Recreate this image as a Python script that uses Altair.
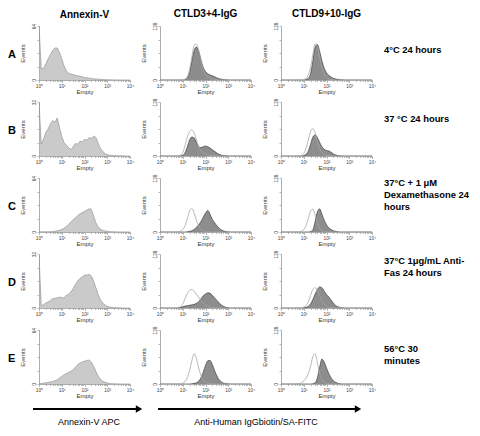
import altair as alt
import numpy as np
import pandas as pd

FONT = "Liberation Sans"

# log10 fluorescence positions (decades 10^0 .. 10^4)
LOGX = [0.0, 0.1, 0.2, 0.3, 0.4, 0.5, 0.6, 0.7, 0.8, 0.9,
        1.0, 1.1, 1.2, 1.3, 1.4, 1.5, 1.6, 1.7, 1.8, 1.9,
        2.0, 2.1, 2.2, 2.3, 2.4, 2.5, 2.6, 2.7, 2.8, 2.9,
        3.0, 3.1, 3.2, 3.3, 3.4, 3.5, 3.6, 3.7, 3.8, 3.9, 4.0]

X_TICKS = [0, 1, 2, 3, 4]
X_LABELS = ["10⁰", "10¹", "10²", "10³", "10⁴"]

ROWS = ["A", "B", "C", "D", "E"]
COL_TITLES = ["Annexin-V", "CTLD3+4-IgG", "CTLD9+10-IgG"]
CONDITIONS = [
    "4°C 24 hours",
    "37 °C 24 hours",
    "37°C + 1 μM\nDexamethasone 24\nhours",
    "37°C 1μg/mL Anti-\nFas 24 hours",
    "56°C 30\nminutes",
]
ANNEXIN_MAX = [64, 32, 64, 32, 64]
CTLD_MAX = [128, 128, 128, 128, 128]
AXIS_LABELS = ["Annexin-V APC", "Anti-Human IgGbiotin/SA-FITC"]

# Annexin-V histograms (events)
ANNEXIN_A = [64, 13, 14, 19, 25, 30, 35, 38, 38, 33, 25, 17, 11, 8, 7, 6.5, 5.5, 5, 4.5, 3.8,
             3, 2.7, 2.2, 1.8, 1.5, 1.2, 1, 0.8, 0.6, 0.4, 0.3, 0.2, 0.2, 0.1, 0.1, 0.1, 0, 0, 0, 0, 0]
ANNEXIN_B = [32, 7, 10, 14, 16, 19, 21, 20, 22.5, 17, 11.5, 8, 6.5, 5, 3.8, 5.5, 7.5, 7, 8.8, 8.5,
             9.8, 9.5, 10.8, 10.5, 11.8, 11, 7.5, 4.5, 2.8, 1.5, 0.8, 0.5, 0.3, 0.2, 0.2, 0.1, 0.1, 0.1, 0, 0, 0]
ANNEXIN_C = [0.3, 0.3, 0.3, 0.3, 0.3, 0.3, 0.5, 1, 1.5, 2, 3, 4.5, 6.5, 9, 12, 14.5, 17, 19.5, 21.5, 23,
             24.5, 26, 27.5, 27, 19, 11, 6, 3.5, 2, 1.2, 0.8, 0.5, 0.3, 0.2, 0.2, 0.1, 0.1, 0.1, 0.1, 0, 0]
ANNEXIN_D = [31, 1.5, 2, 3, 3.5, 4.5, 5.5, 5.8, 6, 6.5, 6.2, 5.8, 7.5, 8.2, 9.5, 11.5, 14, 16, 17.5, 18.5,
             19.5, 19.5, 20, 19, 16, 12, 8, 5, 3, 1.8, 1, 0.6, 0.3, 0.2, 0.2, 0.1, 0.1, 0, 0, 0, 0]
ANNEXIN_E = [0.5, 0.6, 1, 1.4, 1.9, 2.4, 3, 3.8, 5, 7, 9, 11, 12.5, 13.5, 15, 17, 20, 23, 25, 26,
             27, 28, 28.5, 26, 21, 15, 9.5, 5.5, 3.5, 2, 1.2, 0.7, 0.4, 0.2, 0.2, 0.1, 0.1, 0, 0, 0, 0]

# CTLD3+4-IgG: control (open) and sample (filled)
C34_CTRL_A = [0, 0, 0, 0, 0, 0, 0, 0, 0, 0, 0.5, 2, 8, 25, 55, 82, 85, 70, 45, 25,
              13, 7, 4, 2, 1, 0.5, 0, 0, 0, 0, 0, 0, 0, 0, 0, 0, 0, 0, 0, 0, 0]
C34_SAMP_A = [0, 0, 0, 0, 0, 0, 0, 0, 0, 0, 0, 1, 5, 18, 45, 70, 78, 68, 48, 30,
              20, 15, 12, 10, 8, 5, 3, 2, 1, 0.5, 0.2, 0, 0, 0, 0, 0, 0, 0, 0, 0, 0]
C34_CTRL_B = [0, 0, 0, 0, 0, 0, 0, 0, 0.5, 2, 8, 25, 45, 58, 62, 55, 38, 22, 12, 7,
              4, 2.5, 1.5, 1, 0.5, 0, 0, 0, 0, 0, 0, 0, 0, 0, 0, 0, 0, 0, 0, 0, 0]
C34_SAMP_B = [0, 0, 0, 0, 0, 0, 0, 0, 0, 0.5, 2, 8, 22, 38, 45, 43, 32, 22, 20, 22,
              23.5, 22, 19, 15, 11, 7, 4, 2, 1, 0.3, 0, 0, 0, 0, 0, 0, 0, 0, 0, 0, 0]
C34_CTRL_C = [0, 0, 0, 0, 0, 0, 0, 0, 0.5, 2, 6, 15, 32, 50, 56, 45, 28, 14, 6, 2.5,
              1, 0.3, 0, 0, 0, 0, 0, 0, 0, 0, 0, 0, 0, 0, 0, 0, 0, 0, 0, 0, 0]
C34_SAMP_C = [0, 0, 0, 0, 0, 0, 0, 0, 0, 0, 0, 0, 0.5, 1.5, 3, 6, 11, 17, 25, 35,
              45, 51, 42, 30, 22, 15, 9, 5, 2.5, 1, 0.3, 0, 0, 0, 0, 0, 0, 0, 0, 0, 0]
C34_CTRL_D = [0, 0, 0, 0, 0, 0, 0, 0, 0.5, 3, 10, 22, 34, 42, 44, 40, 32, 25, 18, 12,
              7, 4, 2, 0.8, 0.3, 0, 0, 0, 0, 0, 0, 0, 0, 0, 0, 0, 0, 0, 0, 0, 0]
C34_SAMP_D = [0, 0, 0, 0, 0, 0, 0, 0, 0.5, 1.5, 3, 4.5, 5.5, 6.5, 7.5, 8.5, 11, 15, 22, 29,
              33, 36, 35, 30, 24, 18, 12, 7, 3.5, 1.5, 0.5, 0, 0, 0, 0, 0, 0, 0, 0, 0, 0]
C34_CTRL_E = [0, 0, 0, 0, 0, 0, 0, 0, 0, 0.3, 2, 6, 15, 32, 55, 72, 60, 38, 20, 10,
              4, 1.5, 0.5, 0, 0, 0, 0, 0, 0, 0, 0, 0, 0, 0, 0, 0, 0, 0, 0, 0, 0]
C34_SAMP_E = [0, 0, 0, 0, 0, 0, 0, 0, 0, 0, 0, 0, 0, 0, 0.5, 1.5, 3, 7, 15, 28,
              44, 55, 56, 46, 32, 19, 10, 5, 2, 0.8, 0.3, 0, 0, 0, 0, 0, 0, 0, 0, 0, 0]

# CTLD9+10-IgG: control (open) and sample (filled)
C910_CTRL_A = [0, 0, 0, 0, 0, 0, 0, 0, 0, 0.5, 1, 4, 12, 30, 60, 86, 80, 55, 30, 14,
               6, 3, 1.5, 0.5, 0, 0, 0, 0, 0, 0, 0, 0, 0, 0, 0, 0, 0, 0, 0, 0, 0]
C910_SAMP_A = [0, 0, 0, 0, 0, 0, 0, 0, 0, 0, 0, 1, 4, 15, 45, 78, 84, 68, 45, 28,
               17, 11, 7, 4, 2.5, 1.5, 0.8, 0.3, 0, 0, 0, 0, 0, 0, 0, 0, 0, 0, 0, 0, 0]
C910_CTRL_B = [0, 0, 0, 0, 0, 0, 0, 0, 0.5, 2, 6, 18, 38, 58, 65, 55, 35, 18, 9, 4,
               2, 1, 0.5, 0, 0, 0, 0, 0, 0, 0, 0, 0, 0, 0, 0, 0, 0, 0, 0, 0, 0]
C910_SAMP_B = [0, 0, 0, 0, 0, 0, 0, 0, 0, 0, 1, 4, 12, 28, 45, 50, 44, 32, 22, 16,
               13, 12, 9, 5, 2.5, 1, 0.3, 0, 0, 0, 0, 0, 0, 0, 0, 0, 0, 0, 0, 0, 0]
C910_CTRL_C = [0, 0, 0, 0, 0, 0, 0, 0, 0.5, 2, 6, 15, 32, 50, 54, 40, 22, 9, 3, 1,
               0.3, 0, 0, 0, 0, 0, 0, 0, 0, 0, 0, 0, 0, 0, 0, 0, 0, 0, 0, 0, 0]
C910_SAMP_C = [0, 0, 0, 0, 0, 0, 0, 0, 0, 0, 0, 0, 0, 1, 5, 25, 48, 55, 42, 28,
               17, 10, 6, 3, 1.5, 0.5, 0, 0, 0, 0, 0, 0, 0, 0, 0, 0, 0, 0, 0, 0, 0]
C910_CTRL_D = [0, 0, 0, 0, 0, 0, 0, 0, 0, 0.5, 2, 6, 15, 30, 44, 48, 42, 30, 18, 9,
               4, 1.5, 0.5, 0, 0, 0, 0, 0, 0, 0, 0, 0, 0, 0, 0, 0, 0, 0, 0, 0, 0]
C910_SAMP_D = [0, 0, 0, 0, 0, 0, 0, 0, 0, 0, 0.5, 1.5, 4, 10, 20, 33, 44, 50, 48, 40,
               32, 26, 19, 12, 6, 3, 1, 0.3, 0, 0, 0, 0, 0, 0, 0, 0, 0, 0, 0, 0, 0]
C910_CTRL_E = [0, 0, 0, 0, 0, 0, 0, 0.3, 1, 3, 7, 14, 25, 42, 65, 72, 50, 25, 10, 4,
               1, 0.3, 0, 0, 0, 0, 0, 0, 0, 0, 0, 0, 0, 0, 0, 0, 0, 0, 0, 0, 0]
C910_SAMP_E = [0, 0, 0, 0, 0, 0, 0, 0, 0, 0, 0, 0, 0, 0, 0.5, 3, 15, 40, 59, 52,
               38, 25, 15, 8, 4, 1.5, 0.5, 0, 0, 0, 0, 0, 0, 0, 0, 0, 0, 0, 0, 0, 0]

ANNEXIN = [ANNEXIN_A, ANNEXIN_B, ANNEXIN_C, ANNEXIN_D, ANNEXIN_E]
C34 = [(C34_CTRL_A, C34_SAMP_A), (C34_CTRL_B, C34_SAMP_B), (C34_CTRL_C, C34_SAMP_C),
       (C34_CTRL_D, C34_SAMP_D), (C34_CTRL_E, C34_SAMP_E)]
C910 = [(C910_CTRL_A, C910_SAMP_A), (C910_CTRL_B, C910_SAMP_B), (C910_CTRL_C, C910_SAMP_C),
        (C910_CTRL_D, C910_SAMP_D), (C910_CTRL_E, C910_SAMP_E)]

# ---------------- styling ----------------
PW, PH = 91, 54
ANNEX_FILL, ANNEX_LINE = "#b4b4b4", "#8a8a8a"
SAMP_FILL, SAMP_LINE = "#5c5c5c", "#2e2e2e"
CTRL_LINE = "#a6a6a6"
AX_COL = "#8a8a8a"
LABEL_Y = [27, 20, 8, 9.5, 21.5]

MINOR = [round(float(np.log10(k * 10 ** d)), 4) for d in range(4) for k in range(2, 10)]
SUP = "['⁰','¹','²','³','⁴']"


def x_axis():
    return alt.Axis(
        values=X_TICKS + MINOR,
        labelExpr=f"datum.value % 1 === 0 ? '10' + {SUP}[datum.value] : ''",
        title="Empty", titleFontSize=6, titleFontWeight="normal", titlePadding=0,
        titleColor="#333", labelFontSize=4.8, labelColor="#444", labelPadding=1,
        labelFlush=False, labelOverlap=False,
        tickSize={"condition": {"test": "datum.value % 1 === 0", "value": 2.5}, "value": 1.5},
        tickColor=AX_COL, tickWidth=0.6, domainColor=AX_COL, domainWidth=0.7,
        grid=False, labelFont=FONT, titleFont=FONT,
    )


def y_axis(ymax):
    return alt.Axis(
        values=[0, ymax / 4, ymax / 2, 3 * ymax / 4, ymax],
        labelExpr=f"datum.value === 0 || datum.value === {ymax} ? datum.label : ''",
        title="Events", titleFontSize=6, titleFontWeight="normal", titlePadding=6,
        titleColor="#333", labelFontSize=4.8, labelColor="#444", labelPadding=1,
        labelAngle=270, labelAlign="center", labelBaseline="bottom",
        labelFlush=False, labelOverlap=False,
        tickSize=2, tickColor=AX_COL, tickWidth=0.6, domainColor=AX_COL, domainWidth=0.7,
        grid=False, labelFont=FONT, titleFont=FONT,
    )


def enc(ymax):
    x = alt.X("logx:Q", scale=alt.Scale(domain=[0, 4], nice=False, zero=False), axis=x_axis())
    y = alt.Y("count:Q", scale=alt.Scale(domain=[0, ymax], nice=False), axis=y_axis(ymax))
    return x, y


def annexin_panel(values, ymax):
    x, y = enc(ymax)
    df = pd.DataFrame({"logx": LOGX, "count": values})
    return alt.Chart(df).mark_area(
        color=ANNEX_FILL, line={"color": ANNEX_LINE, "strokeWidth": 0.6}, clip=True
    ).encode(x=x, y=y).properties(width=PW, height=PH)


def ctld_panel(ctrl, samp, ymax):
    x, y = enc(ymax)
    sdf = pd.DataFrame({"logx": LOGX, "count": samp})
    cdf = pd.DataFrame({"logx": LOGX, "count": ctrl})
    area = alt.Chart(sdf).mark_area(
        color=SAMP_FILL, line={"color": SAMP_LINE, "strokeWidth": 0.6},
        interpolate="monotone", clip=True
    ).encode(x=x, y=y)
    line = alt.Chart(cdf).mark_line(
        color=CTRL_LINE, strokeWidth=0.8, interpolate="monotone", clip=True
    ).encode(x=x, y=y)
    return alt.layer(area, line).properties(width=PW, height=PH)


def with_title(ch, text):
    return ch.properties(title=alt.TitleParams(
        text, fontSize=10, fontWeight="bold", font=FONT, anchor="middle",
        frame="group", offset=3, color="black"))


def blank(w, h):
    return alt.Chart(pd.DataFrame({"t": [""]})).mark_text().encode(
        text="t:N", x=alt.value(0), y=alt.value(0)).properties(width=w, height=h)


def letter_view(letter):
    return alt.Chart(pd.DataFrame({"t": [letter]})).mark_text(
        fontSize=11, fontWeight="bold", font=FONT, align="left", baseline="middle", color="black"
    ).encode(text="t:N", x=alt.value(0), y=alt.value(PH / 2 + 2)).properties(width=1, height=PH)


def label_view(text, yoff):
    return alt.Chart(pd.DataFrame({"t": [text]})).mark_text(
        fontSize=9.4, fontWeight="bold", font=FONT, align="left", baseline="alphabetic",
        lineBreak="\n", lineHeight=12, color="black"
    ).encode(text="t:N", x=alt.value(-18), y=alt.value(yoff)).properties(width=1, height=PH)


def arrow_view(x0, x1, label, xlab):
    base = alt.Chart(pd.DataFrame({"t": [label]}))
    rule = base.mark_rule(color="black", strokeWidth=1.8).encode(
        x=alt.value(x0), x2=alt.value(x1 - 5), y=alt.value(3))
    head = base.mark_point(shape="triangle-right", filled=True, color="black",
                           size=55, opacity=1, strokeWidth=0).encode(
        x=alt.value(x1 - 4), y=alt.value(3))
    txt = base.mark_text(fontSize=9, font=FONT, align="center", baseline="alphabetic",
                         color="black").encode(text="t:N", x=alt.value(xlab), y=alt.value(19))
    return alt.layer(rule, head, txt).properties(width=PW, height=1)


cells = []
for i, r in enumerate(ROWS):
    p1 = annexin_panel(ANNEXIN[i], ANNEXIN_MAX[i])
    p2 = ctld_panel(C34[i][0], C34[i][1], CTLD_MAX[i])
    p3 = ctld_panel(C910[i][0], C910[i][1], CTLD_MAX[i])
    if i == 0:
        p1 = with_title(p1, COL_TITLES[0])
        p2 = with_title(p2, COL_TITLES[1])
        p3 = with_title(p3, COL_TITLES[2])
    cells += [letter_view(r), p1, p2, p3, label_view(CONDITIONS[i], LABEL_Y[i])]

cells += [blank(1, 1),
          arrow_view(-6, 104, AXIS_LABELS[0], 50),
          arrow_view(-2, 202, AXIS_LABELS[1], 96),
          blank(PW, 1), blank(1, 1)]

chart = alt.concat(
    *cells, columns=5, spacing={"row": 22, "column": 30}, bounds="flush", align="each"
).properties(padding=0).configure(font=FONT).configure_view(strokeWidth=0, stroke=None)

chart.save("out.html", embed_options={"renderer": "svg", "actions": False})
